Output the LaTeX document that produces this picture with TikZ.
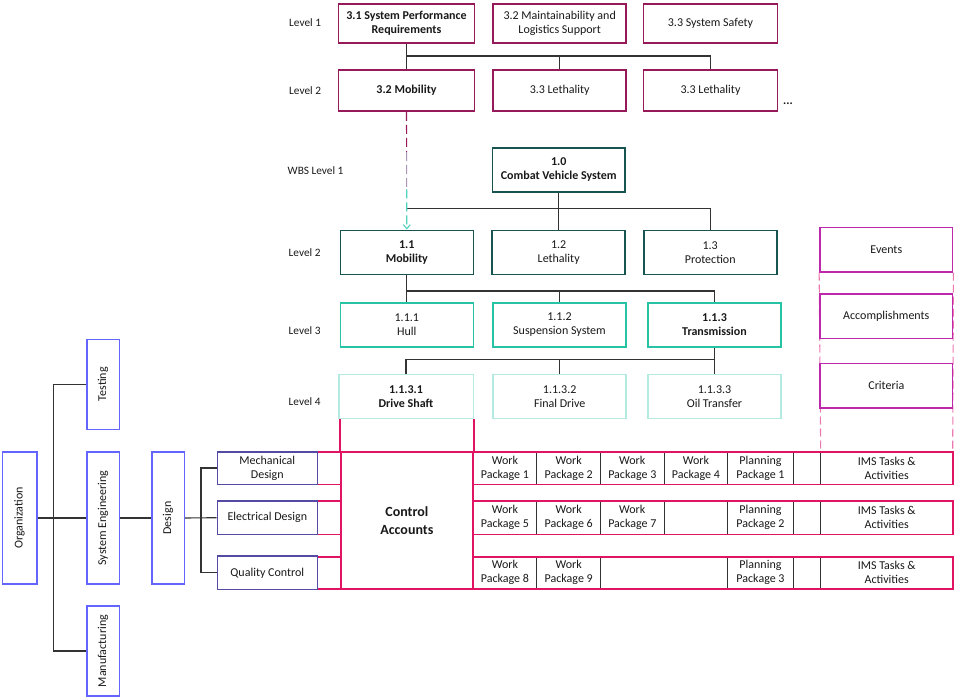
\documentclass[tikz,border=0pt]{standalone}
\usepackage{fontspec}
\setmainfont{Carlito}
\usetikzlibrary{arrows.meta,calc}
\definecolor{reqc}{RGB}{150,25,90}
\definecolor{wbsc}{RGB}{25,85,80}
\definecolor{lthree}{RGB}{40,195,165}
\definecolor{lfour}{RGB}{180,235,225}
\definecolor{evc}{RGB}{190,40,170}
\definecolor{rowc}{RGB}{225,20,100}
\definecolor{orgc}{RGB}{100,100,255}
\definecolor{mechc}{RGB}{85,75,165}
\definecolor{pinkd}{RGB}{235,120,175}
\definecolor{midc}{RGB}{170,150,180}
\definecolor{cyand}{RGB}{80,210,190}
\definecolor{txt}{RGB}{25,25,25}
\begin{document}
\begin{tikzpicture}[x=1pt,y=-1pt,
  font=\fontsize{12}{14}\selectfont,
  box/.style={draw, line width=1.6pt, align=center, inner sep=0pt, text=txt, fill=white},
  reqbox/.style={box, draw=reqc, minimum height=39pt},
  wbsbox/.style={box, draw=wbsc, minimum width=133pt, minimum height=44pt},
  lthbox/.style={box, draw=lthree, minimum width=133pt, minimum height=44pt},
  lfbox/.style={box, draw=lfour, minimum width=133pt, minimum height=44pt},
  evbox/.style={box, draw=evc, minimum width=132.7pt, minimum height=44.4pt},
  orgbox/.style={box, draw=orgc, minimum width=32.6pt},
  mechbox/.style={box, draw=mechc, minimum width=100pt, minimum height=32.6pt},
  lvl/.style={anchor=west, inner sep=0pt, text=txt, font=\fontsize{11.3}{14}\selectfont},
  vtext/.style={rotate=90, inner sep=0pt, text=txt},
  conn/.style={draw=black!80, line width=1.1pt},
  rowline/.style={draw=rowc, line width=1.6pt},
  sepline/.style={draw=black!80, line width=0.9pt},
  pdash/.style={draw=pinkd, line width=1.1pt, dash pattern=on 8pt off 4pt},
  cell/.style={align=center, inner sep=0pt, text=txt},
]
\useasboundingbox (0,0) rectangle (956,699);

% ---------- level labels ----------
\node[lvl] (lv1) at (289,22.5) {Level 1};
\node[lvl] (lv2) at (289,91) {Level 2};
\node[lvl] (wl1) at (287.5,170.5) {WBS Level 1};
\node[lvl] (wl2) at (288.5,252.5) {Level 2};
\node[lvl] (wl3) at (288.5,330.5) {Level 3};
\node[lvl] (wl4) at (288.5,401.5) {Level 4};

% ---------- requirements ----------
\node[reqbox, minimum width=136pt] (r11) at (406.5,23.5) {\textbf{3.1 System Performance}\\\textbf{Requirements}};
\node[reqbox, minimum width=133pt] (r12) at (559.7,23.5) {3.2 Maintainability and\\Logistics Support};
\node[reqbox, minimum width=134pt] (r13) at (710.5,23.5) {3.3 System Safety};
\node[reqbox, minimum width=136pt, minimum height=41pt] (r21) at (406.5,90.5) {\textbf{3.2 Mobility}};
\node[reqbox, minimum width=133pt, minimum height=41pt] (r22) at (559.7,90.5) {3.3 Lethality};
\node[reqbox, minimum width=134pt, minimum height=41pt] (r23) at (710.5,90.5) {3.3 Lethality};
\node[inner sep=0pt, text=txt] (dots) at (788,104) {\textbf{...}};

\coordinate (rbus) at ($(r11.south)!0.48!(r21.north)$);
\draw[conn] (r11.south) -- (r21.north);
\draw[conn] (rbus) -| (r22.north);
\draw[conn] (rbus) -| (r23.north);

% ---------- WBS ----------
\node[wbsbox, minimum width=132.7pt] (w10) at (558.7,169.7) {\textbf{1.0}\\\textbf{Combat Vehicle System}};
\node[wbsbox] (w11) at (406.8,252.3) {\textbf{1.1}\\\textbf{Mobility}};
\node[wbsbox] (w12) at (558.7,252.3) {1.2\\Lethality};
\node[wbsbox] (w13) at (710.2,252.3) {1.3\\Protection};
\node[lthbox] (w111) at (406.8,324.7) {1.1.1\\Hull};
\node[lthbox] (w112) at (559.5,324.7) {1.1.2\\Suspension System};
\node[lthbox] (w113) at (714.5,324.7) {\textbf{1.1.3}\\\textbf{Transmission}};
\node[lfbox, minimum width=134.6pt] (w1131) at (406,396.3) {\textbf{1.1.3.1}\\\textbf{Drive Shaft}};
\node[lfbox] (w1132) at (559.7,396.3) {1.1.3.2\\Final Drive};
\node[lfbox] (w1133) at (714.5,396.3) {1.1.3.3\\Oil Transfer};

\coordinate (wbus) at (558.7,208.5);
\draw[conn] (w10.south) -- (wbus);
\draw[conn] (wbus) -- (wbus -| w11.north);
\draw[conn] (wbus) -| (w13.north);
\draw[conn] (w12.north) -- (w12.north |- wbus);

\coordinate (tbus) at (406.8,291);
\draw[conn] (w11.south) -- (w111.north);
\draw[conn] (tbus) -| (w112.north);
\draw[conn] (tbus) -| (w113.north);

\coordinate (fbus) at (714.5,359.5);
\draw[conn] (w113.south) -- (w1133.north);
\draw[conn] (fbus) -| (w1131.north);
\draw[conn] (w1132.north) -- (w1132.north |- fbus);

% traceability arrow
\coordinate (am1) at ($(r21.south)!0.34!(w11.north)$);
\coordinate (am2) at ($(r21.south)!0.66!(w11.north)$);
\draw[reqc, line width=1.1pt, dash pattern=on 9pt off 4pt] (r21.south) -- (am1);
\draw[midc, line width=1.1pt, dash pattern=on 9pt off 4pt] (am1) -- (am2);
\draw[cyand, line width=1.1pt, dash pattern=on 9pt off 4pt, -{Straight Barb[length=4pt,width=7pt]}] (am2) -- (w11.north);

% ---------- events ----------
\node[evbox] (ev) at (886.3,249.5) {Events};
\draw[pdash] (ev.south west) -- (820.7,451.7);
\draw[pdash] (ev.south east) -- (952.7,451.7);
\node[evbox] (acc) at (886.3,316.2) {Accomplishments};
\node[evbox] (cri) at (886.3,385.5) {Criteria};

% ---------- organization ----------
\node[orgbox, minimum width=34.4pt, minimum height=132.3pt] (org) at (19.5,518) {};
\node[vtext] (orgt) at (org) {Organization};
\node[orgbox, minimum height=90pt] (tst) at (103,384.3) {};
\node[vtext] (tstt) at (tst) {Testing};
\node[orgbox, minimum height=132.3pt] (sys) at (103,518) {};
\node[vtext] (syst) at (sys) {System Engineering};
\node[orgbox, minimum height=90pt] (man) at (103,651) {};
\node[vtext] (mant) at (man) {Manufacturing};
\node[orgbox, minimum height=132.3pt] (des) at (168,518) {};
\node[vtext] (dest) at (des) {Design};

\coordinate (ob) at (53.3,518);
\draw[conn] (org.east) -- (sys.west);
\draw[conn] (tst.west) -| (ob) |- (man.west);
\draw[conn] (sys.east) -- (des.west);
\coordinate (db) at (201,518);

% ---------- control accounts & rows ----------
\node[box, draw=rowc, minimum width=132.3pt, minimum height=137.3pt,
      font=\fontsize{14}{18}\selectfont\bfseries] (ctl) at (406.85,520.35) {Control\\Accounts};
\draw[rowline] (ctl.north west) -- (ctl.north west |- w1131.south);
\draw[rowline] (ctl.north east) -- (ctl.north east |- w1131.south);

% row separators
\foreach \x in {536.7,600.7,664,727.7,793.3,820.7} {
  \draw[sepline] (\x,451.7) -- (\x,484.3);
  \draw[sepline] (\x,501) -- (\x,534.3);
}
\foreach \x in {536.7,600.7,727.7,793.3,820.7} {
  \draw[sepline] (\x,556.7) -- (\x,589);
}
\draw[rowline] (473,451.7) rectangle (952.7,484.3);
\draw[rowline] (473,501) rectangle (952.7,534.3);
\draw[rowline] (473,556.7) rectangle (952.7,589);
\draw[rowline] (317.3,451.7) -- (340.7,451.7);
\draw[rowline] (317.3,484.3) -- (340.7,484.3);
\draw[rowline] (317.3,501) -- (340.7,501);
\draw[rowline] (317.3,534.3) -- (340.7,534.3);
\draw[rowline] (317.3,556.7) -- (340.7,556.7);
\draw[rowline] (317.3,589) -- (340.7,589);

\node[mechbox] (mec) at (267.3,468) {Mechanical\\Design};
\node[mechbox, minimum height=33.3pt] (ele) at (267.3,517.7) {Electrical Design};
\node[mechbox, minimum height=33.3pt] (qc) at (267.3,572.8) {Quality Control};
\draw[conn] (des.east) -- (ele.west);
\draw[conn] (mec.west) -| (db) |- (qc.west);

% cell texts
\node[cell] (wp1) at (504.9,468) {Work\\Package 1};
\node[cell] (wp2) at (568.7,468) {Work\\Package 2};
\node[cell] (wp3) at (632.3,468) {Work\\Package 3};
\node[cell] (wp4) at (695.9,468) {Work\\Package 4};
\node[cell] (pp1) at (760.5,468) {Planning\\Package 1};
\node[cell] (ims1) at (886.7,468) {IMS Tasks \&\\Activities};
\node[cell] (wp5) at (504.9,517.7) {Work\\Package 5};
\node[cell] (wp6) at (568.7,517.7) {Work\\Package 6};
\node[cell] (wp7) at (632.3,517.7) {Work\\Package 7};
\node[cell] (pp2) at (760.5,517.7) {Planning\\Package 2};
\node[cell] (ims2) at (886.7,517.7) {IMS Tasks \&\\Activities};
\node[cell] (wp8) at (504.9,572.8) {Work\\Package 8};
\node[cell] (wp9) at (568.7,572.8) {Work\\Package 9};
\node[cell] (pp3) at (760.5,572.8) {Planning\\Package 3};
\node[cell] (ims3) at (886.7,572.8) {IMS Tasks \&\\Activities};
\end{tikzpicture}
\end{document}
